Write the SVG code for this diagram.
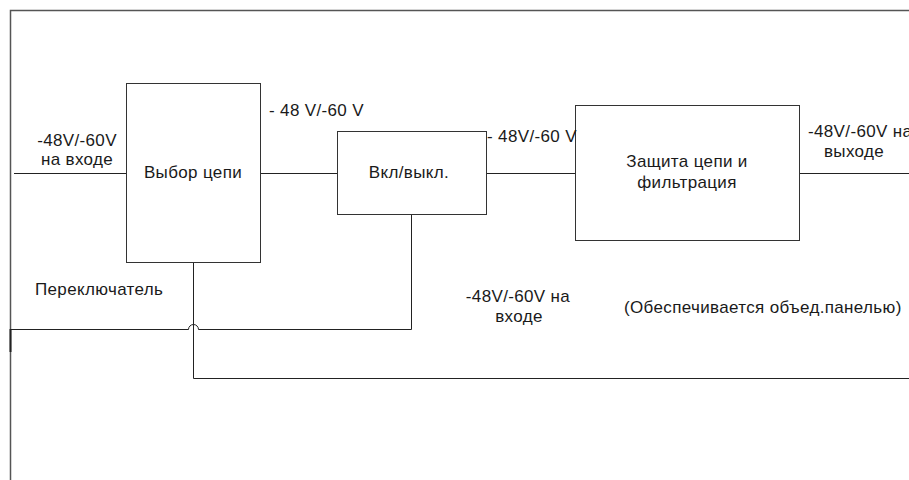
<svg xmlns="http://www.w3.org/2000/svg" width="909" height="480" viewBox="0 0 909 480">
<style>
.box{fill:#fff;stroke:#333;stroke-width:1}
.wire{fill:none;stroke:#222;stroke-width:1}
.frame{fill:none;stroke:#555;stroke-width:1.5}
text{font-family:"Liberation Sans",Arial,sans-serif;font-size:17px;letter-spacing:0.35px;fill:#1a1a1a}
.c{text-anchor:middle}
</style>
<rect width="909" height="480" fill="#fff"/>
<g id="frame">
<path class="frame" d="M10.5,480 V10.5 H909"/>
<path d="M10.5,329 V352" stroke="#222" stroke-width="2" fill="none"/>
</g>
<g id="connectors">
<path class="wire" d="M14,173.5 H126.5"/>
<path class="wire" d="M260.5,173.5 H337.5"/>
<path class="wire" d="M486.5,173.5 H575.5"/>
<path class="wire" d="M799.5,173.5 H909"/>
<path class="wire" d="M193.5,263 V378.5 H909"/>
<path class="wire" d="M411.5,214.5 V329.5 H198.5 A5,5 0 0 0 188.5,329.5 H10.5"/>
</g>
<g id="n-select">
<rect class="box" x="126.5" y="83.5" width="134" height="179"/>
<text class="c" x="193" y="178">Выбор цепи</text>
</g>
<g id="n-onoff">
<rect class="box" x="337.5" y="131.5" width="149" height="83"/>
<text class="c" x="409" y="178">Вкл/выкл.</text>
</g>
<g id="n-protect">
<rect class="box" x="575.5" y="105.5" width="224" height="135"/>
<text class="c" x="687" y="167">Защита цепи и</text>
<text class="c" x="687" y="188">фильтрация</text>
</g>
<g id="labels">
<text class="c" x="77" y="146">-48V/-60V</text>
<text class="c" x="77" y="165">на входе</text>
<text x="269" y="116">- 48 V/-60 V</text>
<text x="487" y="142">- 48V/-60 V</text>
<text x="808" y="137">-48V/-60V на</text>
<text class="c" x="854" y="157">выходе</text>
<text x="35" y="295">Переключатель</text>
<text class="c" x="518" y="302">-48V/-60V на</text>
<text class="c" x="519" y="322">входе</text>
<text x="624" y="313">(Обеспечивается объед.панелью)</text>
</g>
</svg>
